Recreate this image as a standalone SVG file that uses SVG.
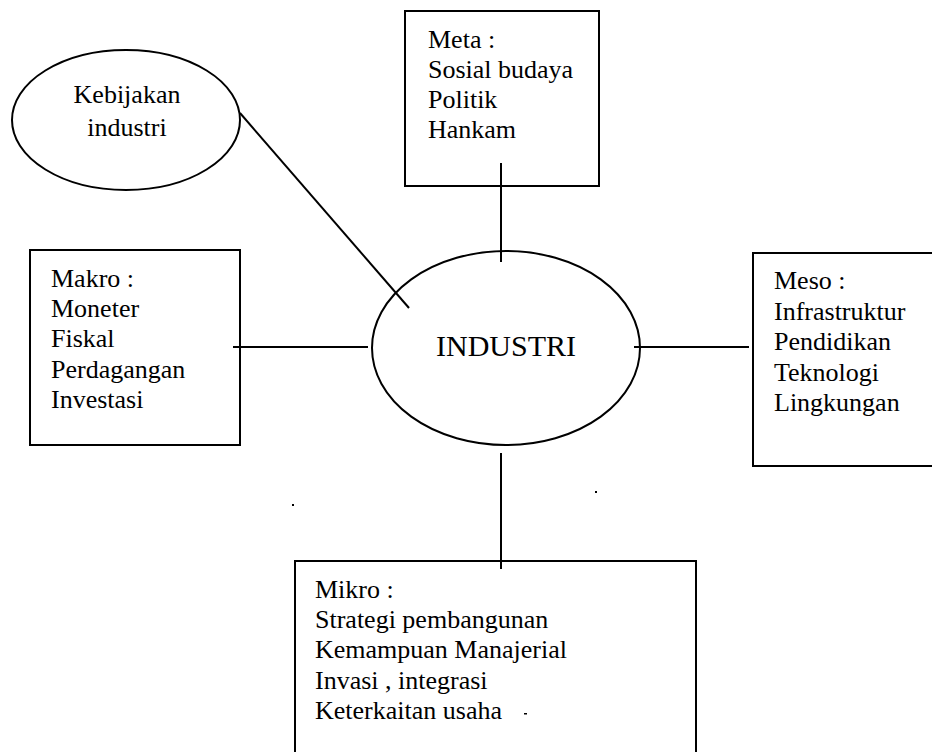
<svg xmlns="http://www.w3.org/2000/svg" width="932" height="752" viewBox="0 0 932 752">
<style>
.shape{fill:none;stroke:#000;stroke-width:2}
.conn line{stroke:#000;stroke-width:2}
text{font-family:'Liberation Serif','Times New Roman','DejaVu Serif',serif;font-size:26px;fill:#000}
.big{font-size:30px}
</style>
<rect width="932" height="752" fill="#fff"/>
<g id="connectors" class="conn">
<line x1="240" y1="113" x2="409" y2="308"/>
<line x1="501" y1="163" x2="501" y2="262"/>
<line x1="233" y1="347" x2="368" y2="347"/>
<line x1="634" y1="347" x2="749" y2="347"/>
<line x1="501" y1="453" x2="501" y2="569"/>
</g>
<g id="kebijakan">
<ellipse class="shape" cx="126" cy="120" rx="114" ry="70"/>
<text x="127" y="103" text-anchor="middle" font-family="Liberation Serif">Kebijakan</text>
<text x="127" y="136" text-anchor="middle">industri</text>
</g>
<g id="meta">
<rect class="shape" x="405" y="11" width="194" height="175"/>
<text x="428" y="48">Meta :</text>
<text x="428" y="78">Sosial budaya</text>
<text x="428" y="108">Politik</text>
<text x="428" y="138">Hankam</text>
</g>
<g id="makro">
<rect class="shape" x="30" y="250" width="210" height="195"/>
<text x="51" y="287">Makro :</text>
<text x="51" y="317">Moneter</text>
<text x="51" y="347">Fiskal</text>
<text x="51" y="378">Perdagangan</text>
<text x="51" y="408">Investasi</text>
</g>
<g id="industri">
<ellipse class="shape" cx="506" cy="348" rx="134" ry="97"/>
<text class="big" x="506" y="356" text-anchor="middle">INDUSTRI</text>
</g>
<g id="meso">
<rect class="shape" x="753" y="253" width="200" height="213"/>
<text x="774" y="289">Meso :</text>
<text x="774" y="320">Infrastruktur</text>
<text x="774" y="350">Pendidikan</text>
<text x="774" y="381">Teknologi</text>
<text x="774" y="411">Lingkungan</text>
</g>
<g id="mikro">
<rect class="shape" x="295" y="561" width="401" height="220"/>
<text x="315" y="598">Mikro :</text>
<text x="315" y="628">Strategi pembangunan</text>
<text x="315" y="658">Kemampuan Manajerial</text>
<text x="315" y="689">Invasi , integrasi</text>
<text x="315" y="719">Keterkaitan usaha</text>
</g>
<g id="specks" fill="#000">
<rect x="292" y="504" width="2" height="2"/>
<rect x="595" y="491" width="2" height="2"/>
<rect x="524" y="713" width="3" height="1.5"/>
</g>
</svg>
